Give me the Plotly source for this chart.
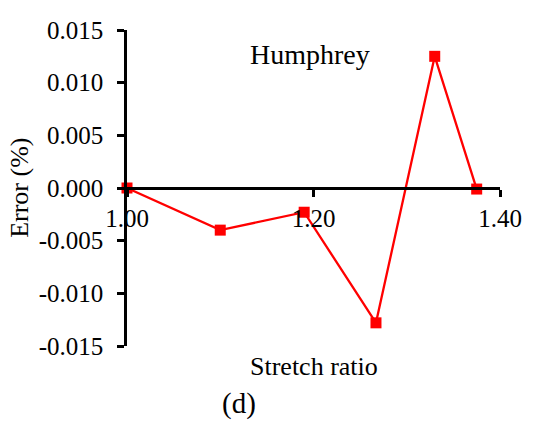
import plotly.graph_objects as go

stretch_ratio = [1.00, 1.10, 1.19, 1.267, 1.33, 1.375]
error_pct = [0.0, -0.0040, -0.0023, -0.0128, 0.0125, -0.0001]

y_tick_vals = [-0.015, -0.010, -0.005, 0.0, 0.005, 0.010, 0.015]
y_tick_text = ["-0.015", "-0.010", "-0.005", "0.000", "0.005", "0.010", "0.015"]
x_tick_vals = [1.00, 1.20, 1.40]
x_tick_text = ["1.00", "1.20", "1.40"]

FONT = "Liberation Serif"

fig = go.Figure()
fig.add_trace(go.Scatter(
    x=stretch_ratio, y=error_pct, mode="lines+markers",
    line=dict(color="#ff0000", width=2.3),
    marker=dict(symbol="square", size=11, color="#ff0000"),
    cliponaxis=False, showlegend=False,
))

fig.update_layout(
    width=534, height=421,
    margin=dict(l=127, r=30, t=30, b=75),
    paper_bgcolor="white", plot_bgcolor="white",
    font=dict(family=FONT, size=25, color="black"),
    xaxis=dict(
        range=[1.0, 1.4], anchor="free", position=0.5,
        showline=True, linecolor="black", linewidth=2.5,
        ticks="outside", ticklen=7, tickwidth=2.5, tickcolor="black",
        tickvals=x_tick_vals, ticktext=x_tick_text,
        showgrid=False, zeroline=False,
        tickfont=dict(family=FONT, size=25, color="black"),
    ),
    yaxis=dict(
        range=[-0.015, 0.015],
        showline=True, linecolor="black", linewidth=2.5,
        ticks="outside", ticklen=7, tickwidth=2.5, tickcolor="black",
        tickvals=y_tick_vals, ticktext=y_tick_text,
        ticklabelstandoff=9,
        showgrid=False, zeroline=False,
        tickfont=dict(family=FONT, size=25, color="black"),
    ),
    annotations=[
        dict(text="Humphrey", x=0.491, y=0.924, xref="paper", yref="paper",
             showarrow=False, xanchor="center", yanchor="middle",
             font=dict(family=FONT, size=28, color="black")),
        dict(text="Error (%)", x=-0.29, y=0.5, xref="paper", yref="paper",
             showarrow=False, xanchor="center", yanchor="middle", textangle=-90,
             font=dict(family=FONT, size=26, color="black")),
        dict(text="Stretch ratio", x=0.501, y=-0.065, xref="paper", yref="paper",
             showarrow=False, xanchor="center", yanchor="middle",
             font=dict(family=FONT, size=26, color="black")),
        dict(text="(d)", x=0.300, y=-0.182, xref="paper", yref="paper",
             showarrow=False, xanchor="center", yanchor="middle",
             font=dict(family=FONT, size=29, color="black")),
    ],
)

fig.write_html("out.html")
